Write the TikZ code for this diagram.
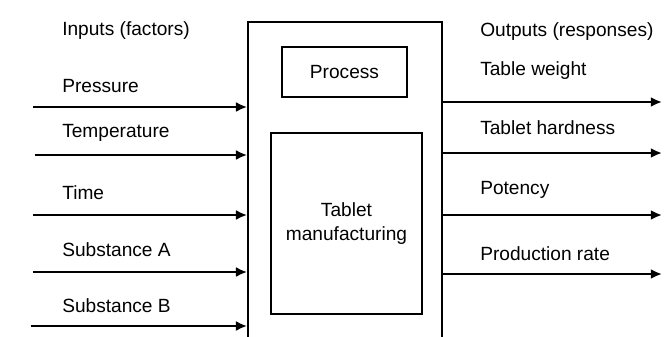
\documentclass[tikz,border=0pt]{standalone}
\usepackage{fontspec}
\setmainfont{Liberation Sans}
\usetikzlibrary{arrows.meta}

\tikzset{
  lbl/.style={anchor=base west,inner sep=0pt},
  flow/.style={line width=1.7pt,-{Latex[length=2.8mm,width=2.5mm]}},
  box/.style={draw,line width=1.2pt,align=center}
}

\begin{document}
\begin{tikzpicture}[font=\fontsize{13.6}{17.7}\selectfont]

\useasboundingbox (0,0) rectangle (16.6,-8.4);
\clip (0,0) rectangle (16.6,-8.4);

%Process blocks
\node[box,minimum width=4.85cm,minimum height=8.45cm] (proc) at (8.625,-4.775) {};
\node[box,minimum width=3.125cm,minimum height=1.25cm] (pbox) at (8.6125,-1.8) {Process};
\node[box,minimum width=3.775cm,minimum height=4.525cm] (tbox) at (8.6625,-5.5875) {Tablet\\manufacturing};

%Inputs
\node[lbl] (inhead) at (1.55,-0.89) {Inputs (factors)};
\node[lbl] (lpres) at (1.55,-2.32) {Pressure}; \node[lbl] (ltemp) at (1.55,-3.43) {Temperature};
\node[lbl] (ltime) at (1.55,-4.98) {Time}; \node[lbl] (lsuba) at (1.55,-6.42) {Substance A};
\node[lbl] (lsubb) at (1.55,-7.82) {Substance B};

\coordinate (pres) at (0.82,-2.675); \coordinate (temp) at (0.87,-3.875); \coordinate (time) at (0.82,-5.375);
\coordinate (suba) at (0.82,-6.8); \coordinate (subb) at (0.78,-8.15);
\draw[flow] (pres)--(pres -| proc.west); \draw[flow] (temp)--(temp -| proc.west); \draw[flow] (time)--(time -| proc.west);
\draw[flow] (suba)--(suba -| proc.west); \draw[flow] (subb)--(subb -| proc.west);

%Outputs
\node[lbl] (outhead) at (12.0,-0.92) {Outputs (responses)};
\node[lbl] (lwt) at (12.0,-1.88) {Table weight}; \node[lbl] (lhard) at (12.0,-3.36) {Tablet hardness};
\node[lbl] (lpot) at (12.0,-4.85) {Potency}; \node[lbl] (lrate) at (12.0,-6.52) {Production rate};

\coordinate (wt) at (16.55,-2.55); \coordinate (hard) at (16.55,-3.825); \coordinate (pot) at (16.55,-5.375);
\coordinate (rate) at (16.55,-6.85);
\draw[flow] (wt -| proc.east)--(wt); \draw[flow] (hard -| proc.east)--(hard);
\draw[flow] (pot -| proc.east)--(pot); \draw[flow] (rate -| proc.east)--(rate);

\end{tikzpicture}
\end{document}
